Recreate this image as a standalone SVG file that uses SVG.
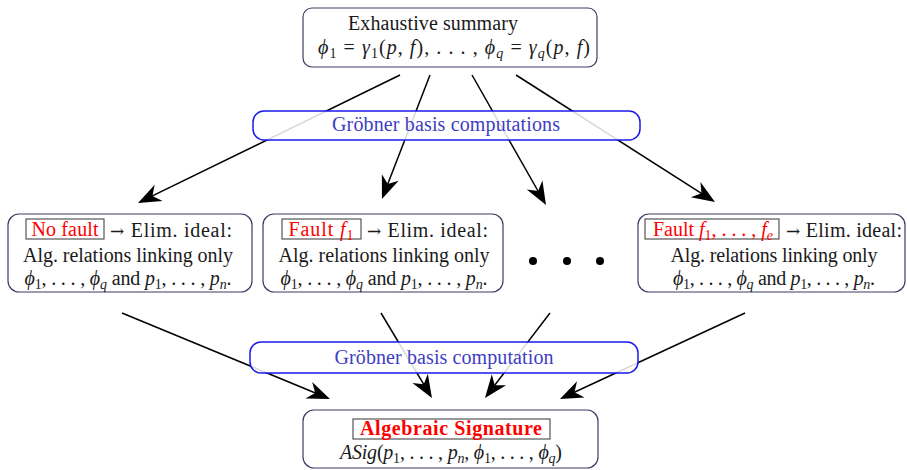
<svg xmlns="http://www.w3.org/2000/svg" width="907" height="470" viewBox="0 0 907 470">
  <defs>
    <style>
      .t { font-family: "Liberation Serif", "DejaVu Serif", serif; font-size: 20px; fill: #1a1a1a; }
      .i { font-style: italic; }
      .s { font-size: 14px; }
      .ar { font-family: "DejaVu Serif", serif; font-size: 17px; }
      .red { fill: #ff0000; }
      .blue { fill: #3d3dc4; }
      .bold { font-weight: bold; }
      .node { fill: #ffffff; stroke: #3c3c64; stroke-width: 1.2; }
      .lbl { fill: #ffffff; fill-opacity: 0.85; stroke: #1a1aee; stroke-width: 1.5; }
      .tag { fill: none; stroke: #555555; stroke-width: 1.2; }
      .arr { stroke: #000000; stroke-width: 1.5; fill: none; marker-end: url(#ah); }
    </style>
    <marker id="ah" markerUnits="userSpaceOnUse" markerWidth="28" markerHeight="22" viewBox="-24 -11 28 22" refX="-4" refY="0" orient="auto">
      <path d="M0,0 L-23,-9 L-16,0 L-23,9 Z" fill="#000000"/>
    </marker>
  </defs>

  <!-- connectors: drawn first so the translucent labels sit above them -->
  <g id="connectors">
    <line class="arr" x1="400" y1="75" x2="141.6" y2="201.2"/>
    <line class="arr" x1="430" y1="75" x2="383.4" y2="195.3"/>
    <line class="arr" x1="472" y1="75" x2="544.0" y2="201.5"/>
    <line class="arr" x1="516" y1="75" x2="711.6" y2="199.8"/>
    <line class="arr" x1="122" y1="313" x2="326.3" y2="397.5"/>
    <line class="arr" x1="381" y1="313" x2="429.9" y2="394.6"/>
    <line class="arr" x1="550" y1="313" x2="487.4" y2="394.8"/>
    <line class="arr" x1="745" y1="313" x2="563.6" y2="397.3"/>
  </g>

  <!-- top node: exhaustive summary -->
  <g id="summary">
    <rect class="node" x="303" y="8" width="294" height="59" rx="9"/>
    <text class="t" x="433" y="30" text-anchor="middle" textLength="170">Exhaustive summary</text>
    <text class="t" x="454" y="54" text-anchor="middle" textLength="272"><tspan class="i">ϕ</tspan><tspan class="s" dy="4">1</tspan><tspan dy="-4"> = </tspan><tspan class="i">γ</tspan><tspan class="s" dy="4">1</tspan><tspan dy="-4">(</tspan><tspan class="i">p</tspan>, <tspan class="i">f</tspan>), . . . , <tspan class="i">ϕ</tspan><tspan class="s i" dy="4">q</tspan><tspan dy="-4"> = </tspan><tspan class="i">γ</tspan><tspan class="s i" dy="4">q</tspan><tspan dy="-4">(</tspan><tspan class="i">p</tspan>, <tspan class="i">f</tspan>)</text>
  </g>

  <!-- label: first Groebner step -->
  <g id="groebner-top">
    <rect class="lbl" x="253" y="111" width="387" height="29" rx="11"/>
    <text class="t blue" x="446" y="131" text-anchor="middle" textLength="228">Gröbner basis computations</text>
  </g>

  <!-- case: no fault -->
  <g id="no-fault">
    <rect class="node" x="8" y="214" width="244" height="78" rx="11"/>
    <rect class="tag" x="26" y="219" width="78" height="20"/>
    <text class="t red" x="65" y="236" text-anchor="middle" textLength="67">No fault</text>
    <text class="t" x="110" y="237" textLength="122"><tspan class="ar">→</tspan> Elim. ideal:</text>
    <text class="t" x="128" y="262" text-anchor="middle" textLength="210">Alg. relations linking only</text>
    <text class="t" x="128" y="285" text-anchor="middle" textLength="207"><tspan class="i">ϕ</tspan><tspan class="s" dy="4">1</tspan><tspan dy="-4">, . . . , </tspan><tspan class="i">ϕ</tspan><tspan class="s i" dy="4">q</tspan><tspan dy="-4"> and </tspan><tspan class="i">p</tspan><tspan class="s" dy="4">1</tspan><tspan dy="-4">, . . . , </tspan><tspan class="i">p</tspan><tspan class="s i" dy="4">n</tspan><tspan dy="-4">.</tspan></text>
  </g>

  <!-- case: single fault -->
  <g id="fault-single">
    <rect class="node" x="263" y="214" width="240" height="78" rx="11"/>
    <rect class="tag" x="282" y="219" width="79" height="20"/>
    <text class="t red" x="321" y="236" text-anchor="middle" textLength="65">Fault <tspan class="i">f</tspan><tspan class="s" dy="4">1</tspan></text>
    <text class="t" x="367" y="237" textLength="121"><tspan class="ar">→</tspan> Elim. ideal:</text>
    <text class="t" x="384" y="262" text-anchor="middle" textLength="211">Alg. relations linking only</text>
    <text class="t" x="384" y="285" text-anchor="middle" textLength="207"><tspan class="i">ϕ</tspan><tspan class="s" dy="4">1</tspan><tspan dy="-4">, . . . , </tspan><tspan class="i">ϕ</tspan><tspan class="s i" dy="4">q</tspan><tspan dy="-4"> and </tspan><tspan class="i">p</tspan><tspan class="s" dy="4">1</tspan><tspan dy="-4">, . . . , </tspan><tspan class="i">p</tspan><tspan class="s i" dy="4">n</tspan><tspan dy="-4">.</tspan></text>
  </g>

  <!-- ellipsis between cases -->
  <g id="more-cases">
    <circle cx="533" cy="261" r="4" fill="#000"/>
    <circle cx="567" cy="261" r="4" fill="#000"/>
    <circle cx="600" cy="261" r="4" fill="#000"/>
  </g>

  <!-- case: multiple faults -->
  <g id="fault-multiple">
    <rect class="node" x="638" y="214" width="267" height="78" rx="11"/>
    <rect class="tag" x="645" y="219" width="134" height="20"/>
    <text class="t red" x="713" y="236" text-anchor="middle" textLength="120">Fault <tspan class="i">f</tspan><tspan class="s" dy="4">1</tspan><tspan dy="-4">, . . . , </tspan><tspan class="i">f</tspan><tspan class="s i" dy="4">e</tspan></text>
    <text class="t" x="786" y="237" textLength="116"><tspan class="ar">→</tspan> Elim. ideal:</text>
    <text class="t" x="774" y="262" text-anchor="middle" textLength="207">Alg. relations linking only</text>
    <text class="t" x="774" y="285" text-anchor="middle" textLength="202"><tspan class="i">ϕ</tspan><tspan class="s" dy="4">1</tspan><tspan dy="-4">, . . . , </tspan><tspan class="i">ϕ</tspan><tspan class="s i" dy="4">q</tspan><tspan dy="-4"> and </tspan><tspan class="i">p</tspan><tspan class="s" dy="4">1</tspan><tspan dy="-4">, . . . , </tspan><tspan class="i">p</tspan><tspan class="s i" dy="4">n</tspan><tspan dy="-4">.</tspan></text>
  </g>

  <!-- label: second Groebner step -->
  <g id="groebner-bottom">
    <rect class="lbl" x="250" y="342" width="388" height="31" rx="11"/>
    <text class="t blue" x="444" y="364" text-anchor="middle" textLength="219">Gröbner basis computation</text>
  </g>

  <!-- result node -->
  <g id="signature">
    <rect class="node" x="303" y="410" width="295" height="58" rx="11"/>
    <rect class="tag" x="353" y="419" width="197" height="20"/>
    <text class="t red bold" x="451" y="435" text-anchor="middle" textLength="182">Algebraic Signature</text>
    <text class="t" x="451" y="459" text-anchor="middle" textLength="222"><tspan class="i">ASig</tspan>(<tspan class="i">p</tspan><tspan class="s" dy="4">1</tspan><tspan dy="-4">, . . . , </tspan><tspan class="i">p</tspan><tspan class="s i" dy="4">n</tspan><tspan dy="-4">, </tspan><tspan class="i">ϕ</tspan><tspan class="s" dy="4">1</tspan><tspan dy="-4">, . . . , </tspan><tspan class="i">ϕ</tspan><tspan class="s i" dy="4">q</tspan><tspan dy="-4">)</tspan></text>
  </g>
</svg>
